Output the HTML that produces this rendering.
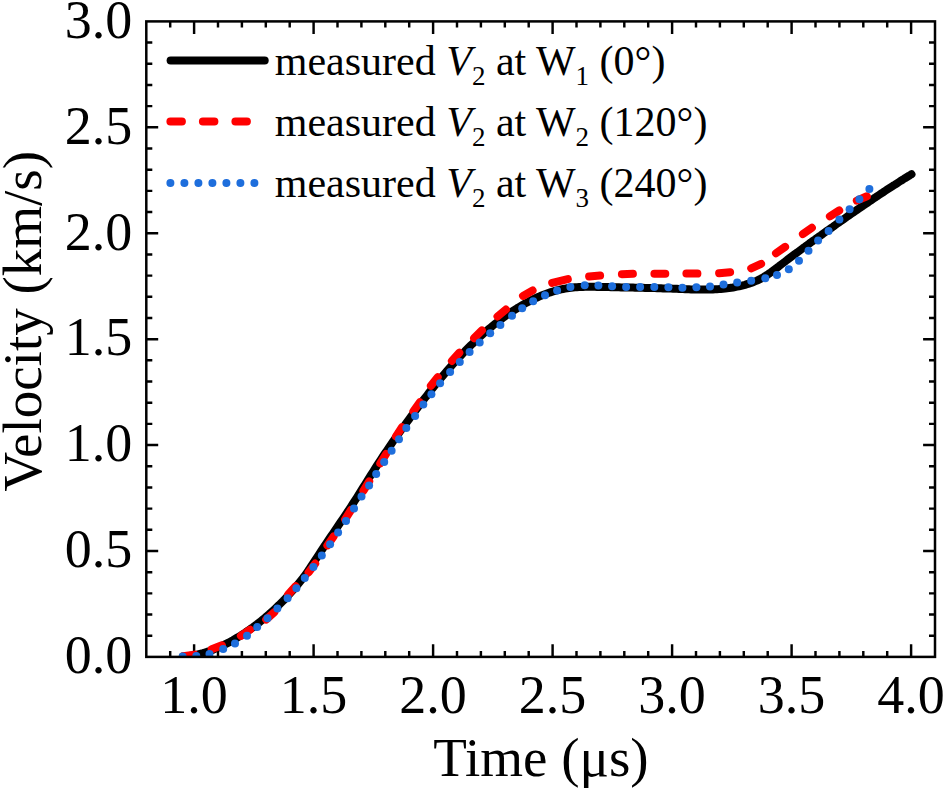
<!DOCTYPE html>
<html><head><meta charset="utf-8"><style>
html,body{margin:0;padding:0;background:#fff;width:944px;height:789px;overflow:hidden}
svg{display:block}
text{font-family:"Liberation Serif",serif;fill:#000}
.tk{font-size:54px}
.ti{font-size:55px}
.lg{font-size:42px}
</style></head><body>
<svg width="944" height="789" viewBox="0 0 944 789"><path d="M170.20,656.90V650.90 M170.20,21.40V27.40 M194.10,656.90V644.30 M194.10,21.40V34.00 M218.00,656.90V650.90 M218.00,21.40V27.40 M241.90,656.90V650.90 M241.90,21.40V27.40 M265.80,656.90V650.90 M265.80,21.40V27.40 M289.70,656.90V650.90 M289.70,21.40V27.40 M313.60,656.90V644.30 M313.60,21.40V34.00 M337.50,656.90V650.90 M337.50,21.40V27.40 M361.40,656.90V650.90 M361.40,21.40V27.40 M385.30,656.90V650.90 M385.30,21.40V27.40 M409.20,656.90V650.90 M409.20,21.40V27.40 M433.10,656.90V644.30 M433.10,21.40V34.00 M457.00,656.90V650.90 M457.00,21.40V27.40 M480.90,656.90V650.90 M480.90,21.40V27.40 M504.80,656.90V650.90 M504.80,21.40V27.40 M528.70,656.90V650.90 M528.70,21.40V27.40 M552.60,656.90V644.30 M552.60,21.40V34.00 M576.50,656.90V650.90 M576.50,21.40V27.40 M600.40,656.90V650.90 M600.40,21.40V27.40 M624.30,656.90V650.90 M624.30,21.40V27.40 M648.20,656.90V650.90 M648.20,21.40V27.40 M672.10,656.90V644.30 M672.10,21.40V34.00 M696.00,656.90V650.90 M696.00,21.40V27.40 M719.90,656.90V650.90 M719.90,21.40V27.40 M743.80,656.90V650.90 M743.80,21.40V27.40 M767.70,656.90V650.90 M767.70,21.40V27.40 M791.60,656.90V644.30 M791.60,21.40V34.00 M815.50,656.90V650.90 M815.50,21.40V27.40 M839.40,656.90V650.90 M839.40,21.40V27.40 M863.30,656.90V650.90 M863.30,21.40V27.40 M887.20,656.90V650.90 M887.20,21.40V27.40 M911.10,656.90V644.30 M911.10,21.40V34.00 M146.30,635.72H152.30 M935.00,635.72H929.00 M146.30,614.53H152.30 M935.00,614.53H929.00 M146.30,593.35H152.30 M935.00,593.35H929.00 M146.30,572.17H152.30 M935.00,572.17H929.00 M146.30,550.98H158.20 M935.00,550.98H923.10 M146.30,529.80H152.30 M935.00,529.80H929.00 M146.30,508.62H152.30 M935.00,508.62H929.00 M146.30,487.43H152.30 M935.00,487.43H929.00 M146.30,466.25H152.30 M935.00,466.25H929.00 M146.30,445.07H158.20 M935.00,445.07H923.10 M146.30,423.88H152.30 M935.00,423.88H929.00 M146.30,402.70H152.30 M935.00,402.70H929.00 M146.30,381.52H152.30 M935.00,381.52H929.00 M146.30,360.33H152.30 M935.00,360.33H929.00 M146.30,339.15H158.20 M935.00,339.15H923.10 M146.30,317.97H152.30 M935.00,317.97H929.00 M146.30,296.78H152.30 M935.00,296.78H929.00 M146.30,275.60H152.30 M935.00,275.60H929.00 M146.30,254.42H152.30 M935.00,254.42H929.00 M146.30,233.23H158.20 M935.00,233.23H923.10 M146.30,212.05H152.30 M935.00,212.05H929.00 M146.30,190.87H152.30 M935.00,190.87H929.00 M146.30,169.68H152.30 M935.00,169.68H929.00 M146.30,148.50H152.30 M935.00,148.50H929.00 M146.30,127.32H158.20 M935.00,127.32H923.10 M146.30,106.13H152.30 M935.00,106.13H929.00 M146.30,84.95H152.30 M935.00,84.95H929.00 M146.30,63.77H152.30 M935.00,63.77H929.00 M146.30,42.58H152.30 M935.00,42.58H929.00" stroke="#000" stroke-width="2.45" fill="none"/>
<text x="132.3" y="673.2" text-anchor="end" class="tk">0.0</text>
<text x="132.3" y="567.3" text-anchor="end" class="tk">0.5</text>
<text x="132.3" y="461.4" text-anchor="end" class="tk">1.0</text>
<text x="132.3" y="355.4" text-anchor="end" class="tk">1.5</text>
<text x="132.3" y="249.5" text-anchor="end" class="tk">2.0</text>
<text x="132.3" y="143.6" text-anchor="end" class="tk">2.5</text>
<text x="132.3" y="37.7" text-anchor="end" class="tk">3.0</text>
<text x="194.1" y="712.5" text-anchor="middle" class="tk">1.0</text>
<text x="313.6" y="712.5" text-anchor="middle" class="tk">1.5</text>
<text x="433.1" y="712.5" text-anchor="middle" class="tk">2.0</text>
<text x="552.6" y="712.5" text-anchor="middle" class="tk">2.5</text>
<text x="672.1" y="712.5" text-anchor="middle" class="tk">3.0</text>
<text x="791.6" y="712.5" text-anchor="middle" class="tk">3.5</text>
<text x="911.1" y="712.5" text-anchor="middle" class="tk">4.0</text>
<text x="541" y="775.8" text-anchor="middle" class="ti">Time (&#956;s)</text>
<text transform="translate(41,321.3) rotate(-90)" x="0" y="0" text-anchor="middle" class="ti">Velocity (km/s)</text>
<clipPath id="c"><rect x="146.3" y="21.4" width="788.7" height="635.5"/></clipPath>
<g clip-path="url(#c)">
<path d="M183.0,656.6 L185.0,656.4 L187.0,656.2 L189.0,656.0 L191.0,655.7 L193.0,655.4 L195.0,655.0 L197.0,654.6 L199.0,654.1 L201.0,653.6 L203.0,653.1 L205.0,652.5 L207.0,651.9 L209.0,651.2 L211.0,650.5 L213.0,649.7 L215.0,648.9 L217.0,648.1 L219.0,647.3 L221.0,646.4 L223.0,645.4 L225.0,644.4 L227.0,643.4 L229.0,642.4 L231.0,641.3 L233.0,640.2 L235.0,639.0 L237.0,637.8 L239.0,636.6 L241.0,635.4 L243.0,634.1 L245.0,632.8 L247.0,631.4 L249.0,630.0 L251.0,628.6 L253.0,627.2 L255.0,625.7 L257.0,624.2 L259.0,622.6 L261.0,621.0 L263.0,619.4 L265.0,617.8 L267.0,616.0 L269.0,614.3 L271.0,612.5 L273.0,610.7 L275.0,608.8 L277.0,606.9 L279.0,605.0 L281.0,603.0 L283.0,601.0 L285.0,598.9 L287.0,596.8 L289.0,594.6 L291.0,592.4 L293.0,590.1 L295.0,587.8 L297.0,585.5 L299.0,583.0 L301.0,580.5 L303.0,578.0 L305.0,575.3 L307.0,572.5 L309.0,569.6 L311.0,566.5 L313.0,563.5 L315.0,560.4 L317.0,557.4 L319.0,554.3 L321.0,551.3 L323.0,548.3 L325.0,545.2 L327.0,542.3 L329.0,539.3 L331.0,536.3 L333.0,533.4 L335.0,530.4 L337.0,527.5 L339.0,524.5 L341.0,521.6 L343.0,518.6 L345.0,515.6 L347.0,512.6 L349.0,509.6 L351.0,506.6 L353.0,503.5 L355.0,500.4 L357.0,497.3 L359.0,494.1 L361.0,490.9 L363.0,487.7 L365.0,484.5 L367.0,481.3 L369.0,478.1 L371.0,474.9 L373.0,471.8 L375.0,468.6 L377.0,465.5 L379.0,462.4 L381.0,459.3 L383.0,456.3 L385.0,453.3 L387.0,450.4 L389.0,447.4 L391.0,444.5 L393.0,441.6 L395.0,438.8 L397.0,436.0 L399.0,433.1 L401.0,430.3 L403.0,427.5 L405.0,424.8 L407.0,422.0 L409.0,419.3 L411.0,416.5 L413.0,413.8 L415.0,411.1 L417.0,408.5 L419.0,405.8 L421.0,403.2 L423.0,400.5 L425.0,397.9 L427.0,395.4 L429.0,392.8 L431.0,390.3 L433.0,387.8 L435.0,385.3 L437.0,382.8 L439.0,380.4 L441.0,378.0 L443.0,375.6 L445.0,373.2 L447.0,370.9 L449.0,368.6 L451.0,366.3 L453.0,364.1 L455.0,361.9 L457.0,359.7 L459.0,357.5 L461.0,355.4 L463.0,353.3 L465.0,351.2 L467.0,349.2 L469.0,347.2 L471.0,345.2 L473.0,343.3 L475.0,341.4 L477.0,339.5 L479.0,337.7 L481.0,335.8 L483.0,334.0 L485.0,332.3 L487.0,330.6 L489.0,328.9 L491.0,327.2 L493.0,325.5 L495.0,323.9 L497.0,322.4 L499.0,320.8 L501.0,319.3 L503.0,317.8 L505.0,316.4 L507.0,314.9 L509.0,313.6 L511.0,312.2 L513.0,310.9 L515.0,309.6 L517.0,308.3 L519.0,307.1 L521.0,305.9 L523.0,304.7 L525.0,303.6 L527.0,302.5 L529.0,301.4 L531.0,300.4 L533.0,299.4 L535.0,298.4 L537.0,297.5 L539.0,296.6 L541.0,295.8 L543.0,295.0 L545.0,294.2 L547.0,293.5 L549.0,292.8 L551.0,292.1 L553.0,291.5 L555.0,290.9 L557.0,290.4 L559.0,289.9 L561.0,289.4 L563.0,289.0 L565.0,288.6 L567.0,288.3 L569.0,288.0 L571.0,287.8 L573.0,287.5 L575.0,287.3 L577.0,287.2 L579.0,287.1 L581.0,287.0 L583.0,286.9 L585.0,286.8 L587.0,286.8 L589.0,286.8 L591.0,286.8 L593.0,286.8 L595.0,286.8 L597.0,286.9 L599.0,286.9 L601.0,286.9 L603.0,287.0 L605.0,287.0 L607.0,287.1 L609.0,287.1 L611.0,287.2 L613.0,287.2 L615.0,287.3 L617.0,287.3 L619.0,287.3 L621.0,287.4 L623.0,287.4 L625.0,287.5 L627.0,287.5 L629.0,287.5 L631.0,287.6 L633.0,287.6 L635.0,287.7 L637.0,287.7 L639.0,287.8 L641.0,287.8 L643.0,287.8 L645.0,287.9 L647.0,287.9 L649.0,288.0 L651.0,288.0 L653.0,288.1 L655.0,288.1 L657.0,288.2 L659.0,288.2 L661.0,288.3 L663.0,288.4 L665.0,288.4 L667.0,288.5 L669.0,288.5 L671.0,288.6 L673.0,288.7 L675.0,288.8 L677.0,288.8 L679.0,288.9 L681.0,289.0 L683.0,289.1 L685.0,289.2 L687.0,289.2 L689.0,289.3 L691.0,289.4 L693.0,289.4 L695.0,289.5 L697.0,289.5 L699.0,289.6 L701.0,289.6 L703.0,289.6 L705.0,289.6 L707.0,289.6 L709.0,289.6 L711.0,289.5 L713.0,289.4 L715.0,289.3 L717.0,289.2 L719.0,289.1 L721.0,288.9 L723.0,288.8 L725.0,288.6 L727.0,288.3 L729.0,288.1 L731.0,287.8 L733.0,287.5 L735.0,287.1 L737.0,286.7 L739.0,286.3 L741.0,285.8 L743.0,285.3 L745.0,284.8 L747.0,284.2 L749.0,283.6 L751.0,283.0 L753.0,282.2 L755.0,281.4 L757.0,280.6 L759.0,279.6 L761.0,278.6 L763.0,277.5 L765.0,276.2 L767.0,275.0 L769.0,273.6 L771.0,272.2 L773.0,270.7 L775.0,269.2 L777.0,267.7 L779.0,266.2 L781.0,264.6 L783.0,263.1 L785.0,261.6 L787.0,260.0 L789.0,258.5 L791.0,257.0 L793.0,255.5 L795.0,254.0 L797.0,252.6 L799.0,251.1 L801.0,249.6 L803.0,248.1 L805.0,246.7 L807.0,245.2 L809.0,243.8 L811.0,242.3 L813.0,240.9 L815.0,239.5 L817.0,238.0 L819.0,236.6 L821.0,235.2 L823.0,233.7 L825.0,232.3 L827.0,230.9 L829.0,229.5 L831.0,228.1 L833.0,226.7 L835.0,225.2 L837.0,223.8 L839.0,222.4 L841.0,221.0 L843.0,219.6 L845.0,218.2 L847.0,216.8 L849.0,215.4 L851.0,214.0 L853.0,212.7 L855.0,211.3 L857.0,209.9 L859.0,208.5 L861.0,207.1 L863.0,205.8 L865.0,204.4 L867.0,203.1 L869.0,201.7 L871.0,200.4 L873.0,199.0 L875.0,197.7 L877.0,196.3 L879.0,195.0 L881.0,193.7 L883.0,192.4 L885.0,191.0 L887.0,189.7 L889.0,188.4 L891.0,187.1 L893.0,185.8 L895.0,184.6 L897.0,183.3 L899.0,182.0 L901.0,180.7 L903.0,179.5 L905.0,178.2 L907.0,177.0 L909.0,175.8 L911.0,174.5 L911.5,174.2" stroke="#000" stroke-width="8" fill="none" stroke-linecap="round" stroke-linejoin="round"/>
<path d="M183.3,656.1L194.2,654.6 M211.7,649.3L221.9,645.3 M240.9,635.8L250.1,629.7 M266.2,619.5L274.3,612.2 M288.2,594.5L295.6,586.3 M308.6,572.4L315.2,563.6 M327.4,545.4L333.6,536.4 M345.1,519.3L351.0,510.0 M363.4,490.8L369.2,481.4 M380.3,463.4L386.1,454.0 M396.0,436.4L402.0,427.2 M413.4,411.3L419.8,402.3 M430.9,385.8L437.7,377.2 M451.9,360.9L459.3,352.7 M474.1,338.2L481.9,330.4 M497.5,316.5L505.9,309.5 M523.0,295.9L532.6,290.5 M552.2,282.9L567.8,279.1 M589.1,276.5L600.1,275.6 M621.9,274.2L632.9,273.8 M654.4,273.7L665.3,273.7 M686.4,273.4L697.4,273.6 M719.1,273.2L730.1,272.2 M751.2,268.4L761.1,263.8 M776.0,253.2L785.1,246.9 M802.9,234.1L811.9,227.7 M829.9,216.4L839.2,210.5 M856.8,200.6L866.9,196.3" stroke="#f00" stroke-width="8" fill="none" stroke-linecap="round"/>
<g fill="#1e6edc"><circle cx="182.6" cy="656.5" r="4"/><circle cx="196.3" cy="656.0" r="4"/><circle cx="209.5" cy="654.0" r="4"/><circle cx="223.2" cy="649.0" r="4"/><circle cx="235.0" cy="643.4" r="4"/><circle cx="247.0" cy="635.8" r="4"/><circle cx="257.2" cy="627.1" r="4"/><circle cx="267.5" cy="618.3" r="4"/><circle cx="277.4" cy="608.6" r="4"/><circle cx="287.6" cy="598.2" r="4"/><circle cx="296.4" cy="588.3" r="4"/><circle cx="304.8" cy="578.1" r="4"/><circle cx="313.4" cy="567.0" r="4"/><circle cx="321.8" cy="555.6" r="4"/><circle cx="330.1" cy="544.3" r="4"/><circle cx="338.1" cy="532.4" r="4"/><circle cx="346.0" cy="520.9" r="4"/><circle cx="354.0" cy="508.4" r="4"/><circle cx="361.5" cy="496.6" r="4"/><circle cx="369.1" cy="485.4" r="4"/><circle cx="376.2" cy="473.9" r="4"/><circle cx="384.2" cy="462.0" r="4"/><circle cx="391.6" cy="450.8" r="4"/><circle cx="399.0" cy="439.2" r="4"/><circle cx="406.3" cy="428.1" r="4"/><circle cx="415.1" cy="415.9" r="4"/><circle cx="423.3" cy="404.5" r="4"/><circle cx="431.4" cy="394.2" r="4"/><circle cx="440.1" cy="383.2" r="4"/><circle cx="450.1" cy="372.0" r="4"/><circle cx="459.8" cy="361.9" r="4"/><circle cx="469.6" cy="351.9" r="4"/><circle cx="479.7" cy="342.6" r="4"/><circle cx="490.2" cy="333.3" r="4"/><circle cx="500.4" cy="324.9" r="4"/><circle cx="512.0" cy="315.8" r="4"/><circle cx="522.2" cy="308.2" r="4"/><circle cx="533.2" cy="301.2" r="4"/><circle cx="545.0" cy="295.2" r="4"/><circle cx="557.1" cy="290.4" r="4"/><circle cx="570.4" cy="286.9" r="4"/><circle cx="584.7" cy="285.3" r="4"/><circle cx="598.4" cy="285.6" r="4"/><circle cx="612.1" cy="286.2" r="4"/><circle cx="626.1" cy="286.9" r="4"/><circle cx="640.1" cy="287.1" r="4"/><circle cx="654.3" cy="287.1" r="4"/><circle cx="668.4" cy="287.3" r="4"/><circle cx="682.4" cy="287.7" r="4"/><circle cx="696.4" cy="287.3" r="4"/><circle cx="710.0" cy="286.4" r="4"/><circle cx="723.5" cy="284.5" r="4"/><circle cx="737.2" cy="282.6" r="4"/><circle cx="751.2" cy="280.7" r="4"/><circle cx="765.3" cy="278.3" r="4"/><circle cx="777.0" cy="275.1" r="4"/><circle cx="788.8" cy="269.2" r="4"/><circle cx="799.0" cy="260.8" r="4"/><circle cx="808.5" cy="250.8" r="4"/><circle cx="818.1" cy="240.6" r="4"/><circle cx="828.6" cy="230.9" r="4"/><circle cx="839.4" cy="219.4" r="4"/><circle cx="849.6" cy="209.3" r="4"/><circle cx="859.4" cy="199.2" r="4"/><circle cx="869.4" cy="189.1" r="4"/></g>
</g>
<rect x="146.30" y="21.40" width="788.70" height="635.50" fill="none" stroke="#000" stroke-width="2.5"/>
<path d="M170.6,60.5H264.7" stroke="#000" stroke-width="8" stroke-linecap="round"/>
<path d="M170.4,121.4H265" stroke="#f00" stroke-width="8" stroke-linecap="round" stroke-dasharray="11.5 21"/>
<path d="M170.4,182.9H256" stroke="#1e6edc" stroke-width="8" stroke-linecap="round" stroke-dasharray="0 14"/>
<text x="274.8" y="74.6" class="lg">measured <tspan font-style="italic">V</tspan><tspan font-size="27" dy="10.7">2</tspan><tspan dy="-10.7"> at W</tspan><tspan font-size="27" dy="10.7">1</tspan><tspan dy="-10.7"> (0&#176;)</tspan></text>
<text x="274.8" y="135.7" class="lg">measured <tspan font-style="italic">V</tspan><tspan font-size="27" dy="10.7">2</tspan><tspan dy="-10.7"> at W</tspan><tspan font-size="27" dy="10.7">2</tspan><tspan dy="-10.7"> (120&#176;)</tspan></text>
<text x="274.8" y="196.5" class="lg">measured <tspan font-style="italic">V</tspan><tspan font-size="27" dy="10.7">2</tspan><tspan dy="-10.7"> at W</tspan><tspan font-size="27" dy="10.7">3</tspan><tspan dy="-10.7"> (240&#176;)</tspan></text></svg>
</body></html>
